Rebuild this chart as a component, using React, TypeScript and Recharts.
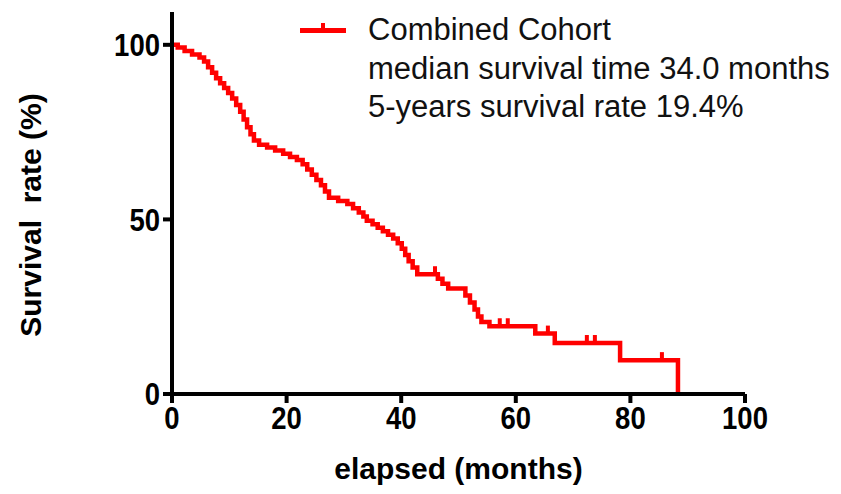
import { ComposedChart, Line, Scatter, XAxis, YAxis, Label } from "recharts";

// Kaplan-Meier steps: event time (months) and survival (%) after the event
const kmTimes = [
  0, 1.0, 2.2, 3.5, 4.8, 5.6, 6.3, 7.0, 7.7, 8.4, 9.1, 9.8, 10.5, 11.2, 11.9, 12.5, 13.1, 13.7, 14.3, 15.2,
  16.6, 18.0, 19.4, 20.6, 21.8, 22.8, 23.6, 24.4, 25.2, 26.0, 26.7, 27.4, 29.0, 30.6, 31.6, 32.6, 33.4, 34.0,
  35.0, 35.9, 36.8, 37.7, 38.6, 39.4, 40.1, 40.7, 41.3, 42.0, 42.8, 46.4, 47.2, 48.2, 51.2, 52.0, 52.8, 53.4,
  54.0, 55.4, 63.4, 66.8, 78.2, 88.3,
];
const kmSurv = [
  100, 99.2, 98.2, 97.2, 96.4, 95.2, 93.6, 92, 90.4, 89, 87.6, 86.2, 84.6, 82.8, 80.8, 78.6, 76.4, 74.4, 72.6, 71.4,
  70.6, 69.7, 68.8, 67.9, 67, 65.8, 64.3, 62.8, 61.3, 59.8, 58, 56.2, 55.3, 54.4, 53.2, 52.0, 50.8, 49.6,
  48.6, 47.6, 46.6, 45.6, 44.5, 43.2, 41.6, 39.8, 38, 36.2, 34.3, 33, 31.6, 30.2, 28.2, 26.2, 24.2, 22.2,
  20.6, 19.4, 17.3, 14.6, 9.7, 0,
];

// censored observations
const censorTimes = [45.9, 57.2, 58.6, 65.6, 72.4, 73.8, 85.5];
const censorSurv = [34.3, 19.4, 19.4, 17.3, 14.6, 14.6, 9.7];

const xTicks = [0, 20, 40, 60, 80, 100];
const yTicks = [0, 50, 100];

const seriesName = "Combined Cohort";
const legendNotes = ["median survival time 34.0 months", "5-years survival rate 19.4%"];

const kmData = kmTimes.map((t, i) => ({ t, s: kmSurv[i] }));
const censorData = censorTimes.map((t, i) => ({ t, s: censorSurv[i] }));

const RED = "#ff0000";
const FONT = "'Liberation Sans', Arial, Helvetica, sans-serif";

// bold, slightly condensed tick numbers (no narrow font installed, so squeeze it)
const CondensedTick = (props: any) => {
  const { x, y, payload, textAnchor, orientation } = props;
  const dy = orientation === "bottom" ? "0.71em" : "0.355em";
  return (
    <g transform={`translate(${x},${y})`}>
      <text transform="scale(0.86,1)" textAnchor={textAnchor} dy={dy}
        style={{ fontFamily: FONT, fontSize: 32, fontWeight: 700, fill: "#000" }}>
        {payload.value}
      </text>
    </g>
  );
};

const CensorMark = (props: any) => {
  const { cx, cy } = props;
  if (cx == null || cy == null) return null;
  return <rect x={cx - 2} y={cy - 8} width={4} height={8} fill={RED} />;
};

// legend block drawn over the chart, like the original's floating key
const LegendBox = () => (
  <div
    style={{
      position: "absolute", top: 11, left: 298, fontFamily: FONT, fontSize: 31,
      lineHeight: "38.5px", color: "#111",
    }}
  >
    <svg width={50} height={14} style={{ position: "absolute", left: 0, top: 11 }}>
      <rect x={2} y={6} width={46} height={5} fill={RED} />
      <rect x={23} y={1} width={4} height={6} fill={RED} />
    </svg>
    <div style={{ marginLeft: 70, whiteSpace: "nowrap" }}>
      <div>{seriesName}</div>
      {legendNotes.map((n) => (
        <div key={n}>{n}</div>
      ))}
    </div>
  </div>
);

export default function App() {
  return (
    <div style={{ position: "absolute", left: 0, top: 0, width: 841, height: 494, background: "#fff" }}>
      <ComposedChart width={841} height={494} margin={{ top: 12, right: 96, bottom: 0, left: 0 }}>
        <XAxis
          dataKey="t"
          type="number"
          domain={[0, 100]}
          ticks={xTicks}
          height={100}
          axisLine={{ stroke: "#000", strokeWidth: 4 }}
          tickLine={{ stroke: "#000", strokeWidth: 4 }}
          tickSize={9}
          tickMargin={3}
          tick={<CondensedTick />}
          interval={0}
        >
          <Label
            content={(p: any) => {
              const vb = p.viewBox;
              return (
                <text x={vb.x + vb.width / 2} y={vb.y + 74} textAnchor="middle" dominantBaseline="central"
                  style={{ fontFamily: FONT, fontSize: 30, fontWeight: 700, fill: "#000" }}>
                  elapsed (months)
                </text>
              );
            }}
          />
        </XAxis>
        <YAxis
          dataKey="s"
          type="number"
          domain={[0, 109.4]}
          ticks={yTicks}
          width={172}
          axisLine={{ stroke: "#000", strokeWidth: 4 }}
          tickLine={{ stroke: "#000", strokeWidth: 4 }}
          tickSize={9}
          tickMargin={3}
          tick={<CondensedTick />}
          interval={0}
        >
          <Label
            content={(p: any) => {
              const vb = p.viewBox;
              const cx = 30;
              const cy = vb.y + vb.height / 2 + 12;
              return (
                <text x={cx} y={cy} textAnchor="middle" dominantBaseline="central" transform={`rotate(-90 ${cx} ${cy})`}
                  style={{ fontFamily: FONT, fontSize: 30, fontWeight: 700, fill: "#000", whiteSpace: "pre" }}>
                  {"Survival  rate (%)"}
                </text>
              );
            }}
          />
        </YAxis>
        <Line
          data={kmData}
          dataKey="s"
          name={seriesName}
          type="stepAfter"
          stroke={RED}
          strokeWidth={4.5}
          strokeLinejoin="miter"
          dot={false}
          activeDot={false}
          isAnimationActive={false}
        />
        <Scatter data={censorData} dataKey="s" fill={RED} shape={<CensorMark />} legendType="none" isAnimationActive={false} />
      </ComposedChart>
      <LegendBox />
    </div>
  );
}
